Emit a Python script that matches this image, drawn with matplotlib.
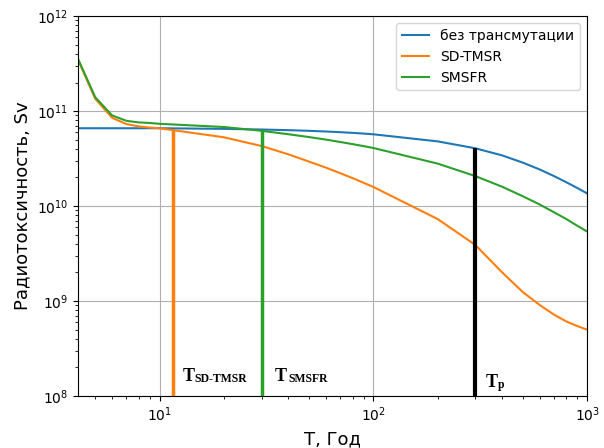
import numpy as np
import matplotlib
matplotlib.use("Agg")
import matplotlib.pyplot as plt

# ---- data ------------------------------------------------------------------
years = [4, 5, 6, 7, 8, 9, 10, 20, 30, 40, 50, 60, 70, 80, 90, 100,
         200, 300, 400, 500, 600, 700, 800, 900, 1000]

no_transmut = [6.6e10, 6.6e10, 6.6e10, 6.6e10, 6.6e10, 6.6e10, 6.6e10,
               6.5e10, 6.4e10, 6.3e10, 6.2e10, 6.1e10, 6.0e10, 5.9e10,
               5.8e10, 5.7e10, 4.8e10, 4.06e10, 3.42e10, 2.87e10, 2.43e10,
               2.07e10, 1.78e10, 1.55e10, 1.36e10]

sd_tmsr = [4.2e11, 1.35e11, 8.5e10, 7.3e10, 6.9e10, 6.7e10, 6.6e10,
           5.3e10, 4.29e10, 3.51e10, 2.94e10, 2.54e10, 2.22e10, 1.97e10,
           1.76e10, 1.59e10, 7.3e9, 3.9e9, 2.01e9, 1.245e9, 9.1e8, 7.2e8,
           6.1e8, 5.45e8, 5.0e8]

smsfr = [4.3e11, 1.4e11, 9.0e10, 7.9e10, 7.6e10, 7.5e10, 7.35e10,
         6.8e10, 6.2e10, 5.71e10, 5.33e10, 5.01e10, 4.73e10, 4.49e10,
         4.28e10, 4.09e10, 2.8e10, 2.07e10, 1.6e10, 1.27e10, 1.04e10, 8.6e9,
         7.3e9, 6.2e9, 5.4e9]

labels = ["без трансмутации", "SD-TMSR", "SMSFR"]

# marker times and the height their vertical lines reach
t_sd, t_sd_top = 11.6, 6.3e10
t_sm, t_sm_top = 30, 6.3e10
t_p, t_p_top = 300, 4.05e10

# ---- figure ----------------------------------------------------------------
fig = plt.figure(figsize=(6.04, 4.48), dpi=100)
ax = fig.add_axes([0.129, 0.116, 0.843, 0.848])

ax.plot(years, no_transmut, color="tab:blue", label=labels[0])
ax.plot(years, sd_tmsr, color="tab:orange", label=labels[1])
ax.plot(years, smsfr, color="tab:green", label=labels[2])

ax.set_xscale("log")
ax.set_yscale("log")
ax.set_xlim(4.15, 1000)
ax.set_ylim(1e8, 1e12)

ax.vlines(t_sd, 1e8, t_sd_top, color="tab:orange", lw=2.5)
ax.vlines(t_sm, 1e8, t_sm_top, color="#2ca02c", lw=2.5)
ax.vlines(t_p, 1e8, t_p_top, color="black", lw=3)

# T-labels with subscripts (serif, bold)
serif = dict(family="Liberation Serif", weight="bold", va="baseline")
ax.text(12.8, 1.44e8, "T", fontsize=13, **serif)
ax.text(14.6, 1.42e8, "SD-TMSR", fontsize=8.5, **serif)
ax.text(34.5, 1.44e8, "T", fontsize=13, **serif)
ax.text(40.0, 1.42e8, "SMSFR", fontsize=8.5, **serif)
ax.text(335, 1.25e8, "T", fontsize=13, **serif)
ax.text(383, 1.22e8, "p", fontsize=8.5, **serif)

ax.grid(True, which="major")
ax.set_xlabel("Т, Год", fontsize=13)
ax.set_ylabel("Радиотоксичность, Sv", fontsize=13)
ax.legend(loc="upper right", fontsize=10)

fig.savefig("out.png", dpi=100)
